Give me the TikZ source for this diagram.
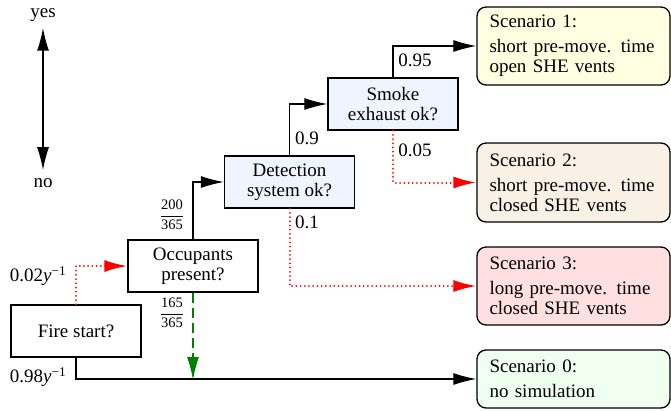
\documentclass[tikz,border=0pt]{standalone}
\usepackage{fontspec}
\setmainfont{Liberation Serif}
\usetikzlibrary{arrows.meta}
\definecolor{queryfill}{HTML}{EEF5FF}
\definecolor{scOnefill}{HTML}{FFFFE2}
\definecolor{scTwofill}{HTML}{FAF1E6}
\definecolor{scThreefill}{HTML}{FFDFDF}
\definecolor{scZerofill}{HTML}{EFFFF0}
\definecolor{yesgreen}{HTML}{008000}
\begin{document}
\begin{tikzpicture}[x=1pt,y=-1pt,
  font=\fontsize{19}{20}\selectfont,
  decision/.style={draw, line width=1.3pt, minimum width=130pt, minimum height=52pt,
    align=center, inner sep=2pt},
  query/.style={decision, fill=queryfill},
  scenario/.style={draw, line width=1.3pt, rounded corners=9pt, minimum width=193pt,
    text width=168pt, align=left, inner sep=0pt},
  link/.style={line width=1.2pt, -{Latex[length=23pt,width=12pt]}},
  failink/.style={link, red, line width=2pt, line cap=round,
    dash pattern=on 0.01pt off 4.2pt},
  skiplink/.style={link, yesgreen, line width=1.4pt, dash pattern=on 10pt off 5pt},
  lbl/.style={inner sep=0pt},
  fraclbl/.style={inner sep=0pt, font=\fontsize{14.5}{16}\selectfont}]
\useasboundingbox (0,0) rectangle (671,410);

% legend: up = yes, down = no
\node[lbl] (yes) at (43,15) {yes};
\node[lbl] (no) at (43,183) {no};
\draw[line width=1.5pt, {Latex[length=23pt,width=12pt]}-{Latex[length=23pt,width=12pt]},
  shorten <=6pt, shorten >=8pt] (yes.south) -- (no.north);

% event tree decisions
\node[decision] (fire) at (76,331) {Fire start?};
\node[decision] (occ) at (193,266) {Occupants\\present?};
\node[query] (det) at (289.5,182) {Detection\\system ok?};
\node[query] (smoke) at (393,104) {Smoke\\exhaust ok?};

% outcome scenarios
\node[scenario, fill=scOnefill, minimum height=78pt] (sc1) at (573.5,46)
  {Scenario 1:\\[5pt] short pre-move. time\\ open SHE vents};
\node[scenario, fill=scTwofill, minimum height=79pt] (sc2) at (573.5,182.5)
  {Scenario 2:\\[5pt] short pre-move. time\\ closed SHE vents};
\node[scenario, fill=scThreefill, minimum height=78pt] (sc3) at (573.5,286)
  {Scenario 3:\\[5pt] long pre-move. time\\ closed SHE vents};
\node[scenario, fill=scZerofill, minimum height=58pt] (sc0) at (573.5,379)
  {Scenario 0:\\[5pt] no simulation};

% branches
\draw[failink] (fire.north) |- (occ.west);
\draw[link] (fire.south) |- (sc0.west);
\coordinate (occend) at (occ.south |- sc0.west);
\draw[link] (occ.north) |- (det.west);
\draw[skiplink] (occ.south) -- ([yshift=-1pt]occend);
\draw[link] (det.north) |- (smoke.west);
\draw[failink] (det.south) |- (sc3.west);
\draw[link] (smoke.north) |- (sc1.west);
\draw[failink] (smoke.south) |- (sc2.west);

% branch probabilities
\node[lbl] (pfire) at (38,276) {0.02\textit{y}\textsuperscript{−1}};
\node[lbl] (pnofire) at (38,377) {0.98\textit{y}\textsuperscript{−1}};
\node[fraclbl] (pocc) at (172,215) {$\displaystyle\frac{\mbox{200}}{\mbox{365}}$};
\node[fraclbl] (pnoocc) at (172,313) {$\displaystyle\frac{\mbox{165}}{\mbox{365}}$};
\node[lbl] (pdet) at (307,138) {0.9};
\node[lbl] (pnodet) at (307,222) {0.1};
\node[lbl] (psmoke) at (415,60) {0.95};
\node[lbl] (pnosmoke) at (415,150) {0.05};
\end{tikzpicture}
\end{document}
